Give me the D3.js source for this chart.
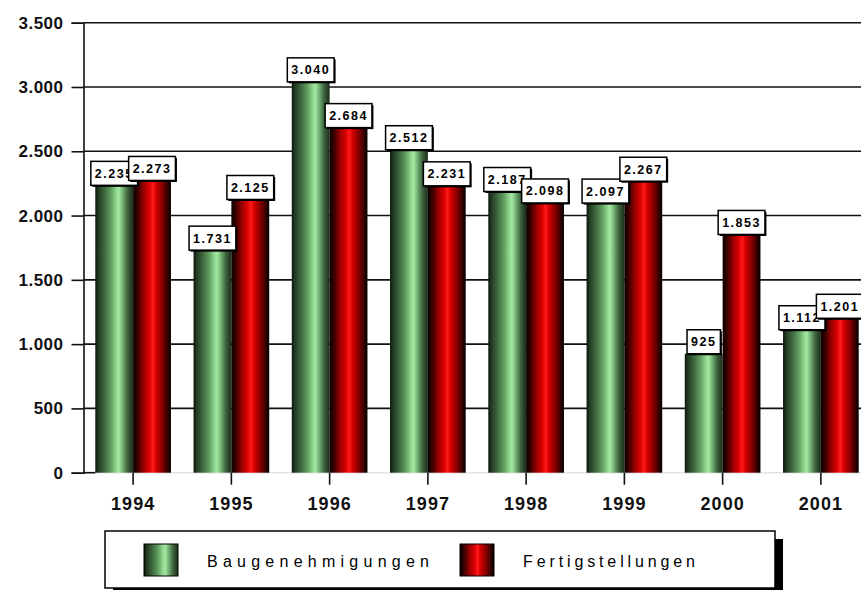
<!DOCTYPE html>
<html>
<head>
<meta charset="utf-8">
<script src="https://cdn.jsdelivr.net/npm/d3@7"></script>
<style>
html,body{margin:0;padding:0;background:#fff;}
svg{display:block;}
</style>
</head>
<body>
<svg id="chart" width="861" height="590"></svg>
<script>
const categories = ["1994","1995","1996","1997","1998","1999","2000","2001"];
const seriesNames = ["Baugenehmigungen","Fertigstellungen"];
const baugenehmigungen = [2235,1731,3040,2512,2187,2097,925,1112];
const fertigstellungen = [2273,2125,2684,2231,2098,2267,1853,1201];
const yTicks = [0,500,1000,1500,2000,2500,3000,3500];

const de = d3.formatLocale({decimal:",", thousands:".", grouping:[3], currency:["","€"]});
const fmt = de.format(",");

const svg = d3.select("#chart");
const W = 861, H = 590;
const axisX = 83.5, y0 = 472.7, yTop = 22.7;

const defs = svg.append("defs");
function grad(id, stops){
  const g = defs.append("linearGradient").attr("id", id).attr("x1","0%").attr("x2","100%").attr("y1","0%").attr("y2","0%");
  stops.forEach(s => g.append("stop").attr("offset", s[0]).attr("stop-color", s[1]));
}
grad("gGreen", [["0%","#0a140a"],["8%","#223a22"],["25%","#406a40"],["42%","#62a062"],["55%","#8fd58f"],["62%","#a2eaa2"],["70%","#7fbf7f"],["85%","#3f653f"],["100%","#1a2c1a"]]);
grad("gRed", [["0%","#0a0000"],["12%","#3a0000"],["28%","#9a0000"],["42%","#d80000"],["52%","#ff1a1a"],["60%","#d80000"],["78%","#800000"],["92%","#300000"],["100%","#000000"]]);
const fills = ["url(#gGreen)","url(#gRed)"];

const y = d3.scaleLinear().domain([0,3500]).range([y0, yTop]);
const x = d3.scaleBand().domain(categories).range([84, 870]).paddingInner(0.23).paddingOuter(0.115);
const xs = d3.scaleBand().domain(seriesNames).range([0, x.bandwidth()]);

// gridlines
svg.append("g").selectAll("line").data(yTicks.filter(d => d > 0)).join("line")
  .attr("x1", axisX).attr("x2", W).attr("y1", d => y(d)).attr("y2", d => y(d))
  .attr("stroke", "#111").attr("stroke-width", 1.6);

// baseline: light between bars, black segment from axis to first bar
svg.append("line").attr("x1", axisX).attr("x2", W).attr("y1", y(0)).attr("y2", y(0))
  .attr("stroke", "#e4e4e4").attr("stroke-width", 1.6);
svg.append("line").attr("x1", axisX).attr("x2", x(categories[0])).attr("y1", y(0)).attr("y2", y(0))
  .attr("stroke", "#111").attr("stroke-width", 1.6);

// y axis
const yAxis = d3.axisLeft(y).tickValues(yTicks).tickSize(12).tickPadding(8).tickFormat(fmt);
const gy = svg.append("g").attr("transform", `translate(${axisX},0)`).call(yAxis);
gy.select(".domain").attr("stroke", "#111").attr("stroke-width", 1.6);
gy.selectAll(".tick line").attr("stroke", "#111").attr("stroke-width", 1.6);
gy.selectAll(".tick text").attr("fill", "#111").style("font-family", "'Liberation Sans', Arial, sans-serif")
  .style("font-size", "17px").style("font-weight", "bold").style("letter-spacing", "0.5px");

// x axis
const xAxis = d3.axisBottom(x).tickSize(12).tickPadding(13).tickSizeOuter(0);
const gx = svg.append("g").attr("transform", `translate(0,${y0})`).call(xAxis);
gx.select(".domain").remove();
gx.selectAll(".tick line").attr("stroke", "#111").attr("stroke-width", 1.6);
gx.selectAll(".tick text").attr("fill", "#111").style("font-family", "'Liberation Sans', Arial, sans-serif")
  .style("font-size", "18px").style("font-weight", "bold").style("letter-spacing", "1px");

// bars
const series = [baugenehmigungen, fertigstellungen];
series.forEach((vals, si) => {
  svg.append("g").selectAll("rect").data(vals).join("rect")
    .attr("x", (d,i) => x(categories[i]) + xs(seriesNames[si]))
    .attr("width", xs.bandwidth())
    .attr("y", d => y(d))
    .attr("height", d => y(0) - y(d))
    .attr("fill", fills[si]);
});

// value labels
series.forEach((vals, si) => {
  const g = svg.append("g");
  vals.forEach((v, i) => {
    const cx = x(categories[i]) + xs(seriesNames[si]) + xs.bandwidth()/2;
    const top = y(v);
    const lg = g.append("g");
    const t = lg.append("text").text(fmt(v))
      .style("font-family", "'Liberation Sans', Arial, sans-serif")
      .style("font-size", "12.5px").style("font-weight", "bold").style("letter-spacing", "1.5px")
      .attr("fill", "#000");
    const tw = t.node().getComputedTextLength();
    const bw = tw + 8, bh = 24;
    const bx = cx - bw/2, by = top - bh;
    lg.insert("rect", "text").attr("x", bx + 1.5).attr("y", by + 1.5).attr("width", bw).attr("height", bh).attr("fill", "#000");
    lg.insert("rect", "text").attr("x", bx).attr("y", by).attr("width", bw).attr("height", bh)
      .attr("fill", "#fff").attr("stroke", "#000").attr("stroke-width", 1.5);
    t.attr("x", bx + 4).attr("y", by + bh/2 + 4.5);
  });
});

// legend
const lg = svg.append("g");
lg.append("rect").attr("x", 113).attr("y", 539).attr("width", 670).attr("height", 57).attr("fill", "#000");
lg.append("rect").attr("x", 105).attr("y", 531).attr("width", 670).attr("height", 57)
  .attr("fill", "#fff").attr("stroke", "#000").attr("stroke-width", 1.5);
const legX = [144, 460];
seriesNames.forEach((name, si) => {
  lg.append("rect").attr("x", legX[si]).attr("y", 544).attr("width", 34).attr("height", 32)
    .attr("fill", fills[si]).attr("stroke", "#000").attr("stroke-width", 1);
  lg.append("text").text(name).attr("x", legX[si] + 63).attr("y", 567)
    .style("font-family", "'Liberation Sans', Arial, sans-serif").style("font-size", "16px")
    .attr("textLength", si === 0 ? 222 : 172).attr("lengthAdjust", "spacing")
    .attr("fill", "#000");
});
</script>
</body>
</html>
